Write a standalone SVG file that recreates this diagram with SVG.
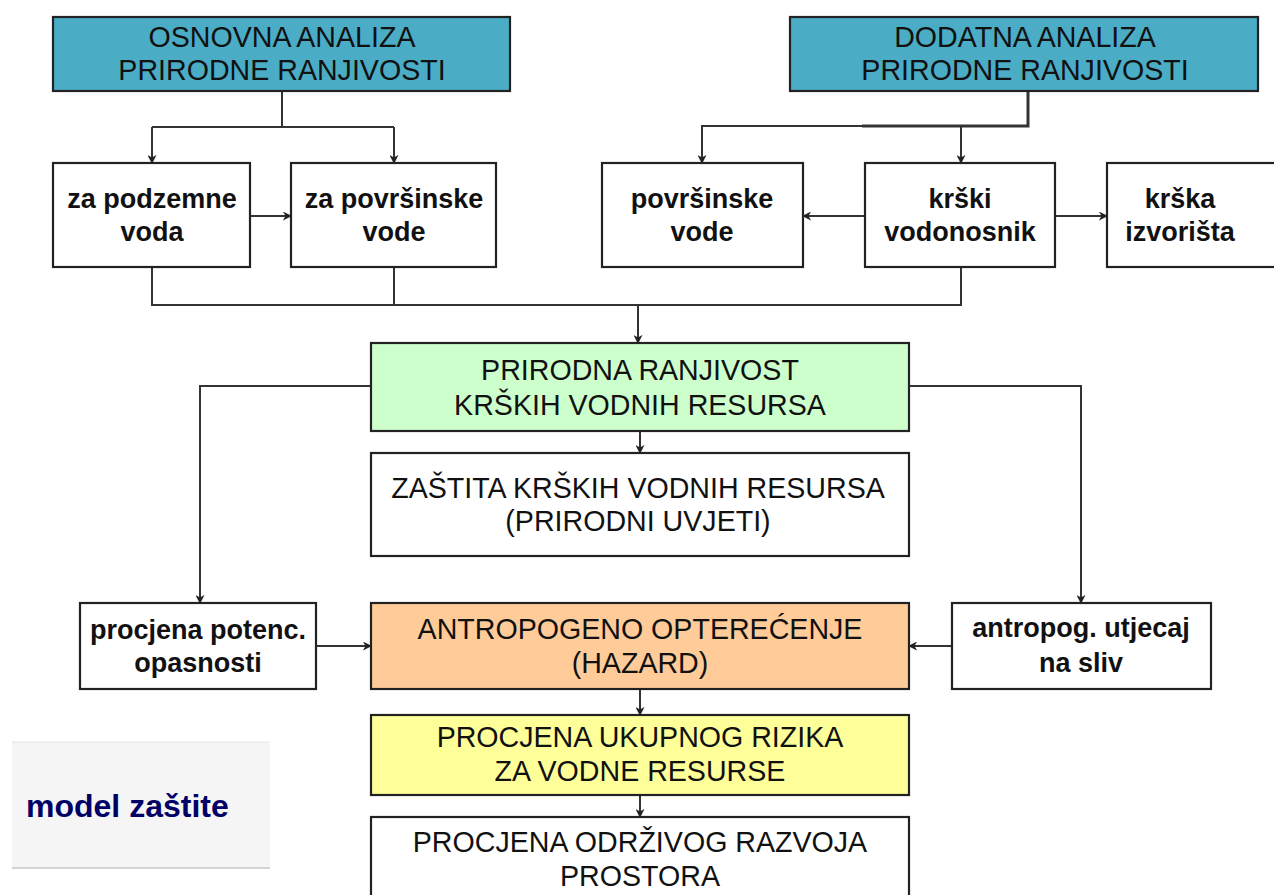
<svg xmlns="http://www.w3.org/2000/svg" width="1274" height="895" viewBox="0 0 1274 895">
<defs>
<marker id="arr" viewBox="0 0 10 10" refX="9" refY="5" markerWidth="9" markerHeight="9" markerUnits="userSpaceOnUse" orient="auto">
<path d="M0,0 L10,5 L0,10 L3,5 Z" fill="#222"/>
</marker>
<style>
.box{stroke:#222;stroke-width:2.2}
.up{font-family:"Liberation Sans",Arial,sans-serif;font-size:28.6px;fill:#111;text-anchor:middle}
.lo{font-family:"Liberation Sans",Arial,sans-serif;font-size:27px;font-weight:bold;fill:#111;text-anchor:middle}
.ln{fill:none;stroke:#333;stroke-width:2}
.la{fill:none;stroke:#333;stroke-width:2;marker-end:url(#arr)}
</style>
</defs>
<rect width="1274" height="895" fill="#fff"/>

<g id="connectors">
<path class="ln" d="M282,91 V127"/>
<path class="la" d="M152,127 H394 M152,127 V163"/>
<path class="la" d="M394,127 V163"/>
<path class="la" d="M250,216 H291"/>
<path class="ln" d="M1028,91 V126 H862" style="stroke-width:3"/>
<path class="la" d="M862,126 H702 V163"/>
<path class="la" d="M961,126 V163"/>
<path class="la" d="M865,216 H803"/>
<path class="la" d="M1055,216 H1107"/>
<path class="ln" d="M152,267 V305 H961 V267 M394,267 V305"/>
<path class="la" d="M638,305 V343"/>
<path class="la" d="M371,386 H200 V603"/>
<path class="la" d="M909,386 H1081 V603"/>
<path class="la" d="M640,431 V453"/>
<path class="la" d="M316,646 H371"/>
<path class="la" d="M952,646 H909"/>
<path class="la" d="M640,689 V715"/>
<path class="la" d="M640,795 V817"/>
</g>

<g id="osnovna">
<rect class="box" x="53" y="17" width="457" height="74" fill="#4bacc6"/>
<text class="up" x="282" y="47">OSNOVNA ANALIZA</text>
<text class="up" x="282" y="80">PRIRODNE  RANJIVOSTI</text>
</g>
<g id="dodatna">
<rect class="box" x="790" y="17" width="468" height="74" fill="#4bacc6"/>
<text class="up" x="1025" y="47">DODATNA ANALIZA</text>
<text class="up" x="1025" y="80">PRIRODNE  RANJIVOSTI</text>
</g>
<g id="podzemne">
<rect class="box" x="53" y="163" width="197" height="104" fill="#fff"/>
<text class="lo" x="152" y="208">za podzemne</text>
<text class="lo" x="152" y="241">voda</text>
</g>
<g id="povrsinske1">
<rect class="box" x="291" y="163" width="205" height="104" fill="#fff"/>
<text class="lo" x="394" y="208">za površinske</text>
<text class="lo" x="394" y="241">vode</text>
</g>
<g id="povrsinske2">
<rect class="box" x="602" y="163" width="201" height="104" fill="#fff"/>
<text class="lo" x="702" y="208">površinske</text>
<text class="lo" x="702" y="241">vode</text>
</g>
<g id="vodonosnik">
<rect class="box" x="865" y="163" width="190" height="104" fill="#fff"/>
<text class="lo" x="960" y="208">krški</text>
<text class="lo" x="960" y="241">vodonosnik</text>
</g>
<g id="izvorista">
<rect class="box" x="1107" y="163" width="180" height="104" fill="#fff"/>
<text class="lo" x="1180" y="208">krška</text>
<text class="lo" x="1180" y="241">izvorišta</text>
</g>
<g id="prirodna">
<rect class="box" x="371" y="343" width="538" height="88" fill="#ccffcc"/>
<text class="up" x="640" y="380">PRIRODNA RANJIVOST</text>
<text class="up" x="640" y="415">KRŠKIH VODNIH RESURSA</text>
</g>
<g id="zastita">
<rect class="box" x="371" y="453" width="538" height="103" fill="#fff"/>
<text class="up" x="638" y="498">ZAŠTITA KRŠKIH VODNIH RESURSA</text>
<text class="up" x="638" y="531">(PRIRODNI UVJETI)</text>
</g>
<g id="procjena-potenc">
<rect class="box" x="80" y="603" width="236" height="86" fill="#fff"/>
<text class="lo" x="198" y="639">procjena potenc.</text>
<text class="lo" x="198" y="672">opasnosti</text>
</g>
<g id="antropogeno">
<rect class="box" x="371" y="603" width="538" height="86" fill="#ffcc99"/>
<text class="up" x="640" y="639">ANTROPOGENO  OPTEREĆENJE</text>
<text class="up" x="640" y="673">(HAZARD)</text>
</g>
<g id="antropog-utjecaj">
<rect class="box" x="952" y="603" width="259" height="86" fill="#fff"/>
<text class="lo" x="1081" y="637">antropog. utjecaj</text>
<text class="lo" x="1081" y="672">na sliv</text>
</g>
<g id="rizik">
<rect class="box" x="371" y="715" width="538" height="80" fill="#ffff99"/>
<text class="up" x="640" y="747">PROCJENA UKUPNOG  RIZIKA</text>
<text class="up" x="640" y="781">ZA VODNE RESURSE</text>
</g>
<g id="odrzivi">
<rect class="box" x="371" y="817" width="538" height="90" fill="#fff"/>
<text class="up" x="640" y="852">PROCJENA ODRŽIVOG  RAZVOJA</text>
<text class="up" x="640" y="886">PROSTORA</text>
</g>
<g id="model">
<rect x="12" y="742" width="258" height="126" fill="#f5f5f5"/>
<line x1="12" y1="742" x2="270" y2="742" stroke="#e6e6e6" stroke-width="1"/>
<line x1="12" y1="868" x2="270" y2="868" stroke="#d4d4d4" stroke-width="2"/>
<text x="26" y="817" font-family="Liberation Sans,Arial,sans-serif" font-size="32" font-weight="bold" fill="#000066">model zaštite</text>
</g>
</svg>
